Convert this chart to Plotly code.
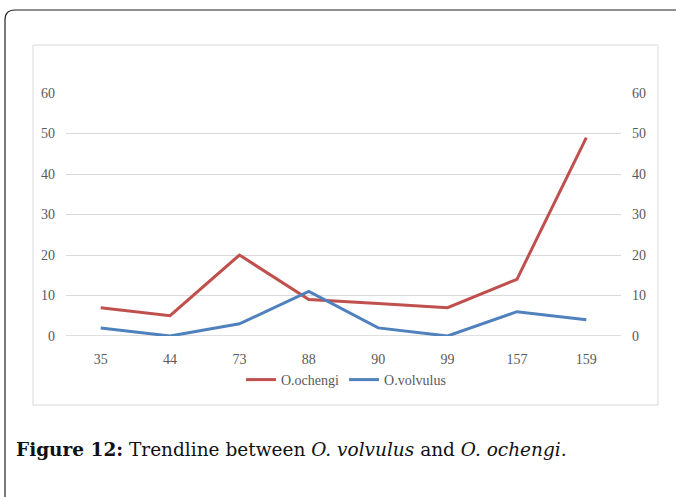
import plotly.graph_objects as go

categories = ["35", "44", "73", "88", "90", "99", "157", "159"]
o_ochengi = [7, 5, 20, 9, 8, 7, 14, 49]
o_volvulus = [2, 0, 3, 11, 2, 0, 6, 4]
y_ticks = [0, 10, 20, 30, 40, 50, 60]

W, H = 676, 497
L, R, T, B = 66, 621, 93, 336

def px(x):
    return (x - L) / (R - L)

def py(y):
    return (B - y) / (B - T)

fig = go.Figure()
fig.add_trace(go.Scatter(x=categories, y=o_ochengi, mode="lines", name="O.ochengi",
                         line=dict(color="#C0504D", width=3)))
fig.add_trace(go.Scatter(x=categories, y=o_volvulus, mode="lines", name="O.volvulus",
                         line=dict(color="#4F81BD", width=3)))
fig.add_trace(go.Scatter(x=categories, y=o_volvulus, yaxis="y2", mode="lines",
                         showlegend=False, hoverinfo="skip",
                         line=dict(color="rgba(0,0,0,0)", width=0)))

tickfont = dict(family="Liberation Serif", size=14, color="#595959")

fig.update_layout(
    width=W, height=H,
    margin=dict(l=L, r=W - R, t=T, b=H - B),
    paper_bgcolor="white", plot_bgcolor="white",
    xaxis=dict(type="category", range=[-0.5, 7.5], showgrid=False, zeroline=False,
               showline=False, ticks="", tickfont=tickfont, ticklabelstandoff=13),
    yaxis=dict(range=[0, 60], tickvals=y_ticks, showgrid=True, gridcolor="#D9D9D9",
               gridwidth=1, zeroline=False, showline=False, ticks="",
               tickfont=tickfont, ticklabelstandoff=10),
    yaxis2=dict(range=[0, 60], tickvals=y_ticks, overlaying="y", side="right",
                showgrid=False, zeroline=False, showline=False, ticks="",
                tickfont=tickfont, ticklabelstandoff=10),
    legend=dict(orientation="h", x=px(346), y=py(380), xanchor="center", yanchor="middle",
                font=dict(family="Liberation Serif", size=14, color="#595959"),
                bgcolor="rgba(0,0,0,0)", tracegroupgap=0),
    showlegend=True,
)

# zero line slightly darker
fig.add_shape(type="line", xref="paper", yref="y", x0=0, x1=1, y0=0, y1=0,
              line=dict(color="#BFBFBF", width=1), layer="below")

# inner chart box
fig.add_shape(type="rect", xref="paper", yref="paper",
              x0=px(33), x1=px(658), y0=py(405), y1=py(45),
              line=dict(color="#D9D9D9", width=1))

# outer rounded frame (extends past right/bottom)
x0, y0, r = 5, 10, 10
x1, y1 = 690, 510
path = (f"M {px(x0)},{py(y1)} L {px(x0)},{py(y0 + r)} "
        f"Q {px(x0)},{py(y0)} {px(x0 + r)},{py(y0)} L {px(x1)},{py(y0)}")
fig.add_shape(type="path", xref="paper", yref="paper", path=path,
              line=dict(color="#222222", width=1.2))

fig.add_annotation(xref="paper", yref="paper", x=px(14), y=py(449),
                   xanchor="left", yanchor="middle", showarrow=False,
                   text="<b>Figure 12:</b> Trendline between <i>O. volvulus</i> and <i>O. ochengi</i>.",
                   font=dict(family="DejaVu Serif", size=18.5, color="#111111"))

fig.write_html("out.html", config={"displayModeBar": False},
               post_script="document.body.style.margin='0';")
